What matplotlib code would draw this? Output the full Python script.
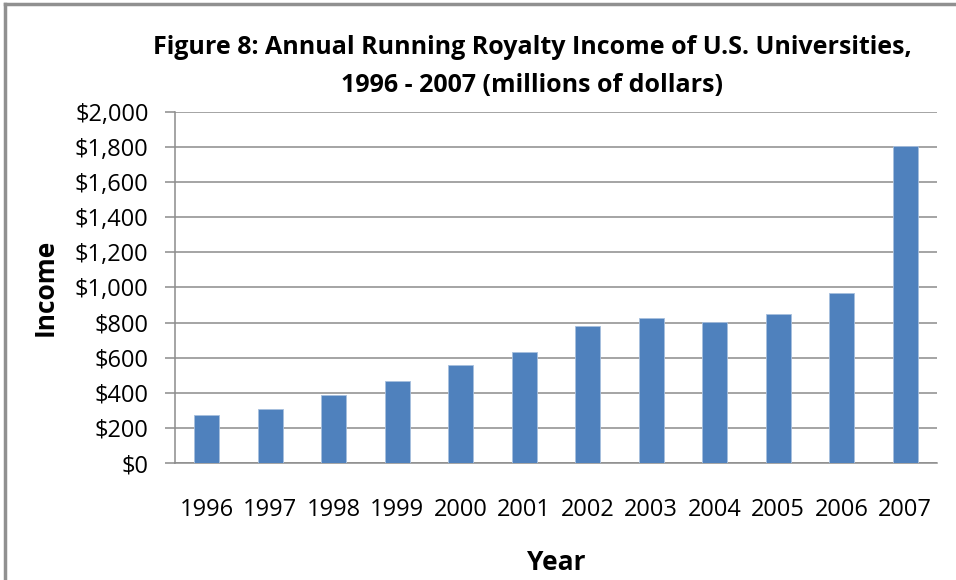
import matplotlib.pyplot as plt
from matplotlib.lines import Line2D
from matplotlib.ticker import FuncFormatter

# Running royalty income, millions of dollars
years = ["1996", "1997", "1998", "1999", "2000", "2001",
         "2002", "2003", "2004", "2005", "2006", "2007"]
income = [276, 307, 387, 470, 556, 630, 782, 826, 803, 849, 967, 1808]

plt.rcParams['font.family'] = ['Open Sans', 'DejaVu Sans']

fig = plt.figure(figsize=(9.56, 5.80), dpi=100)
ax = fig.add_axes([175/956, 1 - 463/580, (937 - 175)/956, (463 - 112)/580])

ax.bar(range(len(years)), income, width=0.4, color="#4f81bd",
       edgecolor="#a7bfde", linewidth=0.6, zorder=3)

ax.set_xlim(-0.5, len(years) - 0.5)
ax.set_ylim(0, 2000)
ax.set_yticks(range(0, 2001, 200))
ax.yaxis.set_major_formatter(FuncFormatter(lambda v, p: "${:,.0f}".format(v)))
ax.set_xticks(range(len(years)))
ax.set_xticklabels(years)

ax.grid(axis='y', color="#8c8c8c", linewidth=1.1, zorder=0)
for side in ['top', 'right']:
    ax.spines[side].set_visible(False)
ax.spines['left'].set_color("#8c8c8c")
ax.spines['bottom'].set_color("#8c8c8c")
ax.spines['left'].set_linewidth(1.1)
ax.spines['bottom'].set_linewidth(1.1)

ax.tick_params(axis='y', length=7, color="#8c8c8c", width=1.1, labelsize=17, pad=12)
ax.tick_params(axis='x', length=0, labelsize=17, pad=25)

ax.set_ylabel("Income", fontsize=19, fontweight='bold', labelpad=12)
ax.set_xlabel("Year", fontsize=19, fontweight='bold', labelpad=20)

fig.text(532/956, 1 - 48/580, "Figure 8: Annual Running Royalty Income of U.S. Universities,",
         ha='center', va='center', fontsize=18, fontweight='bold')
fig.text(532/956, 1 - 85/580, "1996 - 2007 (millions of dollars)",
         ha='center', va='center', fontsize=18, fontweight='bold')

# chart frame
fig.add_artist(Line2D([5/956, 5/956], [0, 1 - 4/580], color="#909090", linewidth=2.5))
fig.add_artist(Line2D([5/956, 1], [1 - 4/580, 1 - 4/580], color="#909090", linewidth=2.5))

fig.savefig("out.png", dpi=100)
